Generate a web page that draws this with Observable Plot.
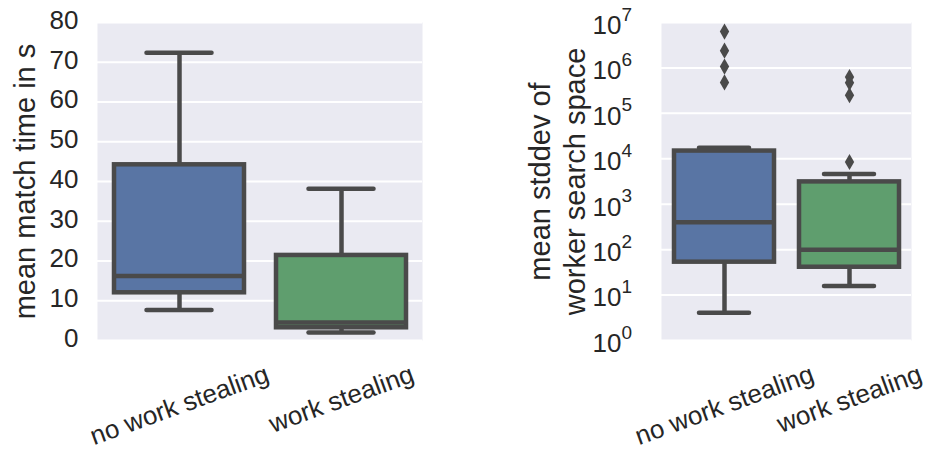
<!DOCTYPE html>
<html>
<head>
<meta charset="utf-8">
<script src="https://cdn.jsdelivr.net/npm/d3@7"></script>
<script src="https://cdn.jsdelivr.net/npm/@observablehq/plot@0.6"></script>
<style>
  html, body { margin: 0; padding: 0; background: white; }
  #wrap { position: relative; width: 930px; height: 450px; font-family: "Liberation Sans", Arial, sans-serif; }
  #left { position: absolute; left: 0; top: 0; }
  #right { position: absolute; left: 470px; top: 0; }
</style>
</head>
<body>
<div id="wrap"><div id="left"></div><div id="right"></div></div>
<script>
// ---- data ----
const categories = ["no work stealing", "work stealing"];
const boxFills = ["#5975a4", "#5f9e6e"];

// left panel: mean match time in s
const timeLow = [7.7, 2.0];
const timeQ1 = [12.0, 3.2];
const timeMedian = [16.2, 4.5];
const timeQ3 = [44.2, 21.4];
const timeHigh = [72.4, 38.2];
const timeTicks = [0, 10, 20, 30, 40, 50, 60, 70, 80];

// right panel: mean stddev of worker search space
const stddevLow = [4.1, 15.8];
const stddevQ1 = [53, 41];
const stddevMedian = [400, 100];
const stddevQ3 = [14800, 3100];
const stddevHigh = [17500, 4600];
const stddevOutliersNoWS = [6.3e6, 2.4e6, 1.07e6, 4.8e5];
const stddevOutliersWS = [6.3e5, 4.7e5, 2.5e5, 8.5e3];
const stddevTickExponents = [0, 1, 2, 3, 4, 5, 6, 7];

// ---- helpers ----
const FONT = "'Liberation Sans', Arial, sans-serif";
const INK = "#262626";
const LINE = "#4a4a4a";
const canvas = document.createElement("canvas");
const ctx = canvas.getContext("2d");
function tickLabelDy(text) {
  ctx.font = "26px 'Liberation Sans'";
  const w = ctx.measureText(text).width;
  const a = 20 * Math.PI / 180;
  return 20 + (w * Math.sin(a) + 27 * Math.cos(a)) / 2;
}

function statsTable(low, q1, med, q3, high) {
  return categories.map((c, i) => ({cat: c, low: low[i], q1: q1[i], median: med[i], q3: q3[i], high: high[i], fill: boxFills[i]}));
}

function panel({width, marginLeft, marginRight, y, yTickValues, tickFormat, tickPadding, tickDy, stats, outliers, yLabel, labelDx, extra}) {
  const height = 450, marginTop = 22, marginBottom = 110;
  const bandwidth = (width - marginLeft - marginRight) / 2 * 0.8;
  const capInset = bandwidth / 4;
  const sw = 4.5;
  const marks = [
    Plot.frame({fill: "#EAEAF2", stroke: null}),
    Plot.gridY({ticks: yTickValues, stroke: "white", strokeOpacity: 1, strokeWidth: 2}),
    Plot.ruleX(stats, {x: "cat", y1: "q3", y2: "high", stroke: LINE, strokeWidth: sw}),
    Plot.ruleX(stats, {x: "cat", y1: "low", y2: "q1", stroke: LINE, strokeWidth: sw}),
    Plot.tickY(stats, {x: "cat", y: "high", stroke: LINE, strokeWidth: sw, strokeLinecap: "round", insetLeft: capInset, insetRight: capInset}),
    Plot.tickY(stats, {x: "cat", y: "low", stroke: LINE, strokeWidth: sw, strokeLinecap: "round", insetLeft: capInset, insetRight: capInset}),
    Plot.barY(stats, {x: "cat", y1: "q1", y2: "q3", fill: "fill", stroke: LINE, strokeWidth: sw}),
    Plot.tickY(stats, {x: "cat", y: "median", stroke: LINE, strokeWidth: sw}),
    Plot.dot(outliers, {x: "cat", y: "value", symbol: "diamond", r: 4.9, fill: LINE, stroke: null}),
    Plot.axisY({ticks: yTickValues, tickFormat, tickSize: 0, tickPadding, fontSize: 26, label: null, dy: tickDy}),
    ...categories.map((c) => Plot.text([c], {x: (d) => d, text: (d) => d, frameAnchor: "bottom", textAnchor: "middle", lineAnchor: "middle", dy: tickLabelDy(c), rotate: -20, fontSize: 26, fill: INK})),
    Plot.text([yLabel], {text: (d) => d, frameAnchor: "left", textAnchor: "middle", lineAnchor: "middle", dx: labelDx, rotate: -90, fontSize: 29, lineHeight: 1.2, fill: INK}),
    ...(extra || [])
  ];
  return Plot.plot({
    width, height, marginLeft, marginRight, marginTop, marginBottom,
    style: {fontFamily: FONT, color: INK, overflow: "visible", background: "white"},
    x: {type: "band", domain: categories, paddingInner: 0.2, paddingOuter: 0.1, axis: null},
    y,
    marks
  });
}

// ---- left panel ----
const left = panel({
  width: 470, marginLeft: 97, marginRight: 48,
  y: {domain: [0, 80], axis: null},
  yTickValues: timeTicks,
  tickFormat: (d) => String(d),
  tickPadding: 19,
  tickDy: -2,
  stats: statsTable(timeLow, timeQ1, timeMedian, timeQ3, timeHigh),
  outliers: [],
  yLabel: "mean match time in s",
  labelDx: -74
});
document.getElementById("left").appendChild(left);

// ---- right panel ----
const outlierRows = [
  ...stddevOutliersNoWS.map((v) => ({cat: categories[0], value: v})),
  ...stddevOutliersWS.map((v) => ({cat: categories[1], value: v}))
];
const right = panel({
  width: 460, marginLeft: 191, marginRight: 19,
  y: {type: "log", domain: [1, 1e7], axis: null},
  yTickValues: stddevTickExponents.map((e) => 10 ** e),
  tickFormat: () => "10",
  tickPadding: 40,
  tickDy: 3,
  stats: statsTable(stddevLow, stddevQ1, stddevMedian, stddevQ3, stddevHigh),
  outliers: outlierRows,
  yLabel: "mean stddev of\nworker search space",
  labelDx: -105,
  extra: [
    Plot.text(stddevTickExponents, {y: (e) => 10 ** e, text: (e) => String(e), frameAnchor: "left", dx: -40, dy: -8, textAnchor: "start", fontSize: 19, fill: INK})
  ]
});
document.getElementById("right").appendChild(right);
</script>
</body>
</html>
